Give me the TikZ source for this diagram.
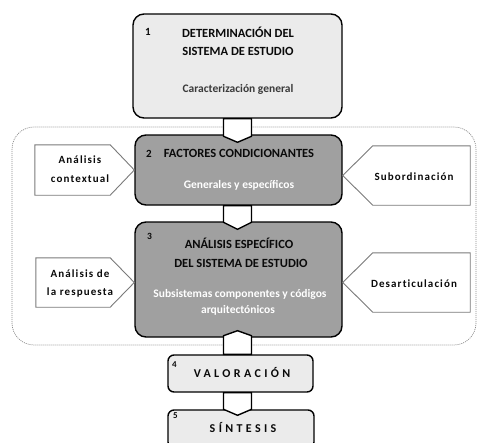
\documentclass[tikz,border=0pt]{standalone}
\usepackage{fontspec}
\setmainfont{Carlito}
\newfontfamily\sidefont[LetterSpace=10,Ligatures=NoCommon]{Carlito}
\newfontfamily\widefont[LetterSpace=28,Ligatures=NoCommon]{Carlito}
\usetikzlibrary{calc}
\definecolor{lightfill}{HTML}{EBEBEB}
\definecolor{darkfill}{HTML}{A0A0A0}
\definecolor{subgray}{HTML}{3A3A3A}
\definecolor{edgegray}{HTML}{7A7A7A}
\definecolor{dotgray}{HTML}{8A8A8A}
\definecolor{textdark}{HTML}{0A0A0A}
\tikzset{
  mainbox/.style={draw=black, line width=1.4pt, rounded corners=11pt, inner sep=0pt},
  lightbox/.style={mainbox, fill=lightfill},
  darkbox/.style={mainbox, fill=darkfill},
  smallbox/.style={draw=black, line width=1.4pt, rounded corners=6pt, inner sep=0pt, fill=lightfill},
  sideshape/.style={draw=none, inner sep=0pt},
  sideline/.style={draw=edgegray, line width=0.9pt, fill=white, line join=miter},
  blockarrow/.style={draw=black, line width=1.4pt, fill=white, line join=miter},
  container/.style={draw=dotgray, line width=0.7pt, dash pattern=on 1pt off 1pt, rounded corners=22pt},
  title/.style={anchor=base, inner sep=0pt, text=textdark, font=\bfseries\fontsize{12.5}{14}\selectfont},
  subtitle/.style={anchor=base, inner sep=0pt, font=\bfseries\fontsize{11.5}{13}\selectfont},
  numlabel/.style={anchor=base west, inner sep=0pt, text=textdark, font=\bfseries\fontsize{11}{12}\selectfont},
  sidetext/.style={anchor=base, inner sep=0pt, text=textdark, font=\sidefont\bfseries\fontsize{11}{13}\selectfont},
  widetext/.style={anchor=base, inner sep=0pt, text=textdark, font=\widefont\bfseries\fontsize{12}{14}\selectfont}
}
\begin{document}
\begin{tikzpicture}[x=1pt,y=-1pt]
\useasboundingbox (0,0) rectangle (478,442);
\clip (0,0) rectangle (478,442);

% dotted container
\draw[container] (12,127) rectangle (476,345);

% main boxes
\node[lightbox, minimum width=209pt, minimum height=104pt] (b1) at (237.5,66) {};
\node[darkbox, minimum width=207pt, minimum height=70pt] (b2) at (238.5,170) {};
\node[darkbox, minimum width=207pt, minimum height=115pt] (b3) at (238.5,279.5) {};
\node[smallbox, minimum width=145pt, minimum height=37pt] (b4) at (240.5,373.5) {};
\node[smallbox, minimum width=146pt, minimum height=38pt] (b5) at (241,429) {};

% side shapes
\node[sideshape, minimum width=75pt, minimum height=50pt] (lc) at (72.5,170) {};
\node[sideshape, minimum width=97pt, minimum height=59pt] (rs) at (421.5,175.5) {};
\node[sideshape, minimum width=74pt, minimum height=49pt] (lr) at (73,282.5) {};
\node[sideshape, minimum width=97pt, minimum height=59pt] (rd) at (421.5,282.5) {};

\draw[sideline] (lc.north west) -- (lc.north east) -- (b2.west |- lc.east) -- (lc.south east) -- (lc.south west) -- cycle;
\draw[sideline] (rs.north east) -- (rs.north west) -- (b2.east |- rs.west) -- (rs.south west) -- (rs.south east) -- cycle;
\draw[sideline] (lr.north west) -- (lr.north east) -- (b3.west |- lr.east) -- (lr.south east) -- (lr.south west) -- cycle;
\draw[sideline] (rd.north east) -- (rd.north west) -- (b3.east |- rd.west) -- (rd.south west) -- (rd.south east) -- cycle;

% block arrows
\draw[blockarrow] ($(b1.south)+(-14,0)$) -- ($(b1.south |- b2.north)+(-14,2)$) -- ($(b1.south |- b2.north)+(0,8)$) -- ($(b1.south |- b2.north)+(14,2)$) -- ($(b1.south)+(14,0)$) -- cycle;
\draw[blockarrow] ($(b1.south |- b2.south)+(-14,0)$) -- ($(b1.south |- b3.north)+(-14,1)$) -- ($(b1.south |- b3.north)+(0,8)$) -- ($(b1.south |- b3.north)+(14,1)$) -- ($(b1.south |- b2.south)+(14,0)$) -- cycle;
\draw[blockarrow] ($(b1.south |- b4.north)+(-14,0)$) -- ($(b1.south |- b3.south)+(-14,-2)$) -- ($(b1.south |- b3.south)+(0,-7)$) -- ($(b1.south |- b3.south)+(14,-2)$) -- ($(b1.south |- b4.north)+(14,0)$) -- cycle;
\draw[blockarrow] ($(b1.south |- b4.south)+(-14,0)$) -- ($(b1.south |- b5.north)+(-14,0)$) -- ($(b1.south |- b5.north)+(0,6)$) -- ($(b1.south |- b5.north)+(14,0)$) -- ($(b1.south |- b4.south)+(14,0)$) -- cycle;

% box 1 texts
\node[numlabel] (n1) at (145,35) {1};
\node[title] (t1a) at (238,37) {DETERMINACIÓN DEL};
\node[title] (t1b) at (238,55) {SISTEMA DE ESTUDIO};
\node[subtitle, text=subgray] (t1c) at (238,92) {Caracterización general};

% box 2 texts
\node[numlabel] (n2) at (146,157) {2};
\node[title] (t2a) at (239,157) {FACTORES CONDICIONANTES};
\node[subtitle, text=white] (t2b) at (239,188) {Generales y específicos};

% box 3 texts
\node[numlabel, font=\bfseries\fontsize{9.5}{11}\selectfont] (n3) at (147,239) {3};
\node[title] (t3a) at (239,248) {ANÁLISIS ESPECÍFICO};
\node[title] (t3b) at (241,267) {DEL SISTEMA DE ESTUDIO};
\node[subtitle, text=white] (t3c) at (240,297) {Subsistemas componentes y códigos};
\node[subtitle, text=white] (t3d) at (238,313) {arquitectónicos};

% box 4 / 5 texts
\node[numlabel, font=\bfseries\fontsize{9}{10}\selectfont] (n4) at (172,367) {4};
\node[widetext] (t4) at (242,377) {VALORACIÓN};
\node[numlabel, font=\bfseries\fontsize{9}{10}\selectfont] (n5) at (173,418) {5};
\node[widetext] (t5) at (243,432) {SÍNTESIS};

% side texts
\node[sidetext] (s1a) at (80,163) {Análisis};
\node[sidetext] (s1b) at (80,182) {contextual};
\node[sidetext] (s2) at (414,180) {Subordinación};
\node[sidetext] (s3a) at (80,277) {Análisis de};
\node[sidetext] (s3b) at (80,295) {la respuesta};
\node[sidetext] (s4) at (414,287) {Desarticulación};
\end{tikzpicture}
\end{document}
